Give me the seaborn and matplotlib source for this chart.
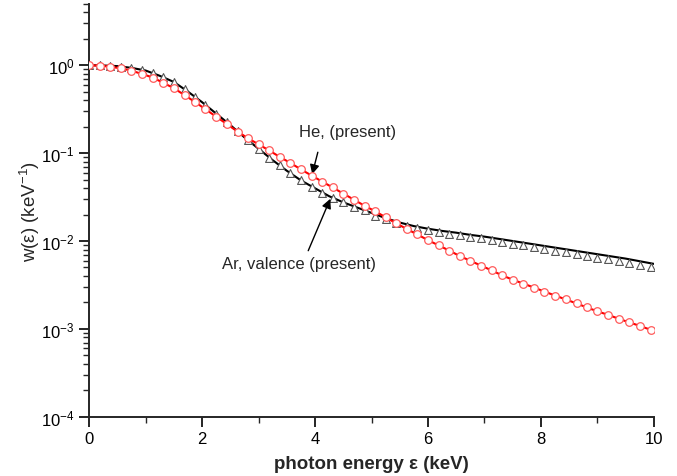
"""Photon energy distribution w(eps) for He and Ar valence, log scale."""

import matplotlib
matplotlib.use("Agg")
import matplotlib.pyplot as plt
import matplotlib.ticker as mticker
import numpy as np
import pandas as pd
import seaborn as sns

# marker positions (keV), shared by both symbol series
marker_x = [0.0, 0.19, 0.38, 0.56, 0.75, 0.94, 1.13, 1.31, 1.5, 1.69, 1.88,
            2.06, 2.25, 2.44, 2.63, 2.81, 3.0, 3.19, 3.38, 3.56, 3.75, 3.94,
            4.13, 4.31, 4.5, 4.69, 4.88, 5.06, 5.25, 5.44, 5.63, 5.81, 6.0,
            6.19, 6.38, 6.56, 6.75, 6.94, 7.13, 7.31, 7.5, 7.69, 7.88, 8.06,
            8.25, 8.44, 8.63, 8.81, 9.0, 9.19, 9.38, 9.56, 9.75, 9.94]

# He (present): log10 w at marker_x, red curve with open circles
he_log = [0.0, -0.005, -0.018, -0.035, -0.062, -0.10, -0.14, -0.20, -0.26,
          -0.34, -0.42, -0.50, -0.585, -0.67, -0.755, -0.83, -0.90, -0.97,
          -1.045, -1.11, -1.185, -1.255, -1.325, -1.39, -1.46, -1.53, -1.60,
          -1.66, -1.73, -1.80, -1.865, -1.925, -1.99, -2.05, -2.11, -2.17,
          -2.225, -2.28, -2.335, -2.39, -2.44, -2.485, -2.53, -2.575, -2.62,
          -2.665, -2.71, -2.755, -2.80, -2.84, -2.885, -2.925, -2.965, -3.01]
he_end = (10.0, -3.03)

# Ar valence: triangles (log10 w at marker_x)
ar_tri_log = [0.0, -0.002, -0.006, -0.015, -0.03, -0.053, -0.09, -0.135,
              -0.19, -0.27, -0.36, -0.45, -0.55, -0.65, -0.75, -0.85, -0.95,
              -1.05, -1.14, -1.23, -1.31, -1.38, -1.45, -1.51, -1.56, -1.61,
              -1.65, -1.71, -1.755, -1.795, -1.825, -1.855, -1.88, -1.90,
              -1.915, -1.935, -1.955, -1.97, -1.99, -2.01, -2.03, -2.05, -2.07,
              -2.09, -2.11, -2.13, -2.15, -2.17, -2.19, -2.21, -2.23, -2.25,
              -2.27, -2.29]

# Ar valence (present): black curve
ar_line_x = [0.0, 0.25, 0.5, 0.75, 1.0, 1.25, 1.5, 1.75, 2.0, 2.25, 2.5, 2.75,
             3.0, 3.25, 3.5, 3.75, 4.0, 4.25, 4.5, 4.75, 5.0, 5.25, 5.5, 5.75,
             6.0, 6.25, 6.5, 6.75, 7.0, 7.25, 7.5, 7.75, 8.0, 8.25, 8.5, 8.75,
             9.0, 9.25, 9.5, 9.75, 10.0]
ar_line_log = [0.0, -0.003, -0.01, -0.03, -0.06, -0.12, -0.19, -0.30, -0.42,
               -0.55, -0.68, -0.82, -0.95, -1.08, -1.20, -1.31, -1.40, -1.49,
               -1.56, -1.62, -1.68, -1.74, -1.79, -1.83, -1.86, -1.885, -1.905,
               -1.93, -1.95, -1.975, -2.00, -2.025, -2.05, -2.075, -2.10,
               -2.125, -2.15, -2.175, -2.20, -2.23, -2.26]

he_line = pd.DataFrame({"e": marker_x + [he_end[0]],
                        "w": 10.0 ** np.array(he_log + [he_end[1]])})
pts = pd.DataFrame({"e": marker_x,
                    "he": 10.0 ** np.array(he_log),
                    "ar": 10.0 ** np.array(ar_tri_log)})
ar_line = pd.DataFrame({"e": ar_line_x, "w": 10.0 ** np.array(ar_line_log)})

sns.set_style("ticks")
plt.rcParams["font.family"] = ["Liberation Sans", "DejaVu Sans"]
plt.rcParams["mathtext.fontset"] = "custom"
plt.rcParams["mathtext.rm"] = "Liberation Sans"
plt.rcParams["axes.unicode_minus"] = False

fig = plt.figure(figsize=(6.77, 4.77), dpi=100)
ax = fig.add_axes([0.1315, 0.124, 0.8345, 0.866])

sns.lineplot(data=ar_line, x="e", y="w", color="black", lw=1.5, ax=ax, zorder=2)
sns.scatterplot(data=pts, x="e", y="ar", marker="^", s=32, color="white",
                edgecolor="#555555", linewidth=0.8, ax=ax, zorder=3)
sns.lineplot(data=he_line, x="e", y="w", color="#ff0000", lw=1.5, ax=ax, zorder=4)
sns.scatterplot(data=pts, x="e", y="he", marker="o", s=30, color="white",
                edgecolor="#ff5a5a", linewidth=0.9, ax=ax, zorder=5)

ax.set_yscale("log")
ax.set_xlim(0, 10)
ax.set_ylim(1e-4, 5)
ax.xaxis.set_major_locator(mticker.MultipleLocator(2))
ax.xaxis.set_minor_locator(mticker.MultipleLocator(1))
ax.yaxis.set_major_locator(mticker.LogLocator(base=10, numticks=10))
ax.yaxis.set_minor_locator(mticker.LogLocator(base=10, subs=np.arange(2, 10), numticks=20))
ax.yaxis.set_minor_formatter(mticker.NullFormatter())

sns.despine(ax=ax)
for s in ("left", "bottom"):
    ax.spines[s].set_linewidth(1.4)
ax.tick_params(which="major", direction="out", length=7, width=1.2, labelsize=12,
               colors="black")
ax.tick_params(which="minor", direction="out", length=4, width=1.0)

ax.set_xlabel("photon energy ε (keV)", fontsize=13.5, fontweight="bold", labelpad=6)
ax.set_ylabel("w(ε) (keV$^{-1}$)", fontsize=13.5, labelpad=-1)

ax.text(4.57, 0.174, "He, (present)", fontsize=12, ha="center", va="center")
ax.annotate("", xy=(3.95, 10 ** -1.24), xytext=(4.05, 10 ** -0.99),
            arrowprops=dict(arrowstyle="-|>", color="black", lw=1.0,
                            mutation_scale=14, shrinkA=0, shrinkB=0))
ax.text(3.72, 0.0055, "Ar, valence (present)", fontsize=12, ha="center", va="center")
ax.annotate("", xy=(4.27, 10 ** -1.52), xytext=(3.88, 10 ** -2.11),
            arrowprops=dict(arrowstyle="-|>", color="black", lw=1.0,
                            mutation_scale=14, shrinkA=0, shrinkB=0))

fig.savefig("out.png", dpi=100)
plt.close(fig)
